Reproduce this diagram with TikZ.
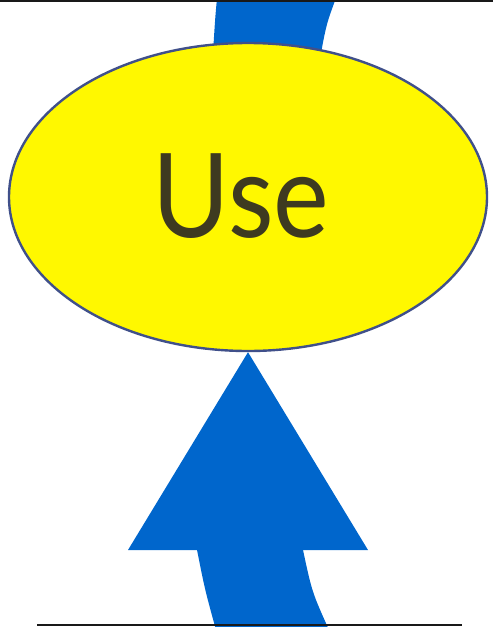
\documentclass[tikz,border=0pt]{standalone}
\usepackage{fontspec}
\setmainfont{Lato}
\usetikzlibrary{shapes.geometric}
\definecolor{flowblue}{HTML}{0066CC}
\definecolor{ovalyellow}{HTML}{FFF800}
\definecolor{ovalline}{HTML}{40508A}
\definecolor{textbrown}{HTML}{3E3A20}
\tikzset{
  flow/.style={fill=flowblue, draw=none},
  oval/.style={ellipse, fill=ovalyellow, draw=ovalline, line width=2.4pt,
    minimum width=478pt, minimum height=308pt, inner sep=0pt,
    text=textbrown, font=\fontsize{117}{117}\selectfont},
  rule/.style={draw=black!90, line width=2pt}
}
\begin{document}
\begin{tikzpicture}[x=1pt,y=-1pt]
\useasboundingbox (0,0) rectangle (493,627);
\begin{scope}
\clip (0,0) rectangle (493,627);
% incoming flow at top
\fill[flow] (217,-2) .. controls (215,20) .. (212,70) -- (318,70) .. controls (326,25) .. (336,-2) -- cycle;
% ellipse node
\node[oval] (use) at (248,197) {\kern-14pt\raisebox{3pt}{\scalebox{0.9}[1]{Use}}};
% upward arrow into the node
\fill[flow] (216,630) .. controls (205,590) .. (197,550) -- (128,550) -- (use.south) -- (368,550) -- (303,550) .. controls (312,592) .. (329,630) -- cycle;
\end{scope}
\draw[rule] (0,1) -- (493,1);
\draw[rule] (37,625) -- (462,625);
\end{tikzpicture}
\end{document}
